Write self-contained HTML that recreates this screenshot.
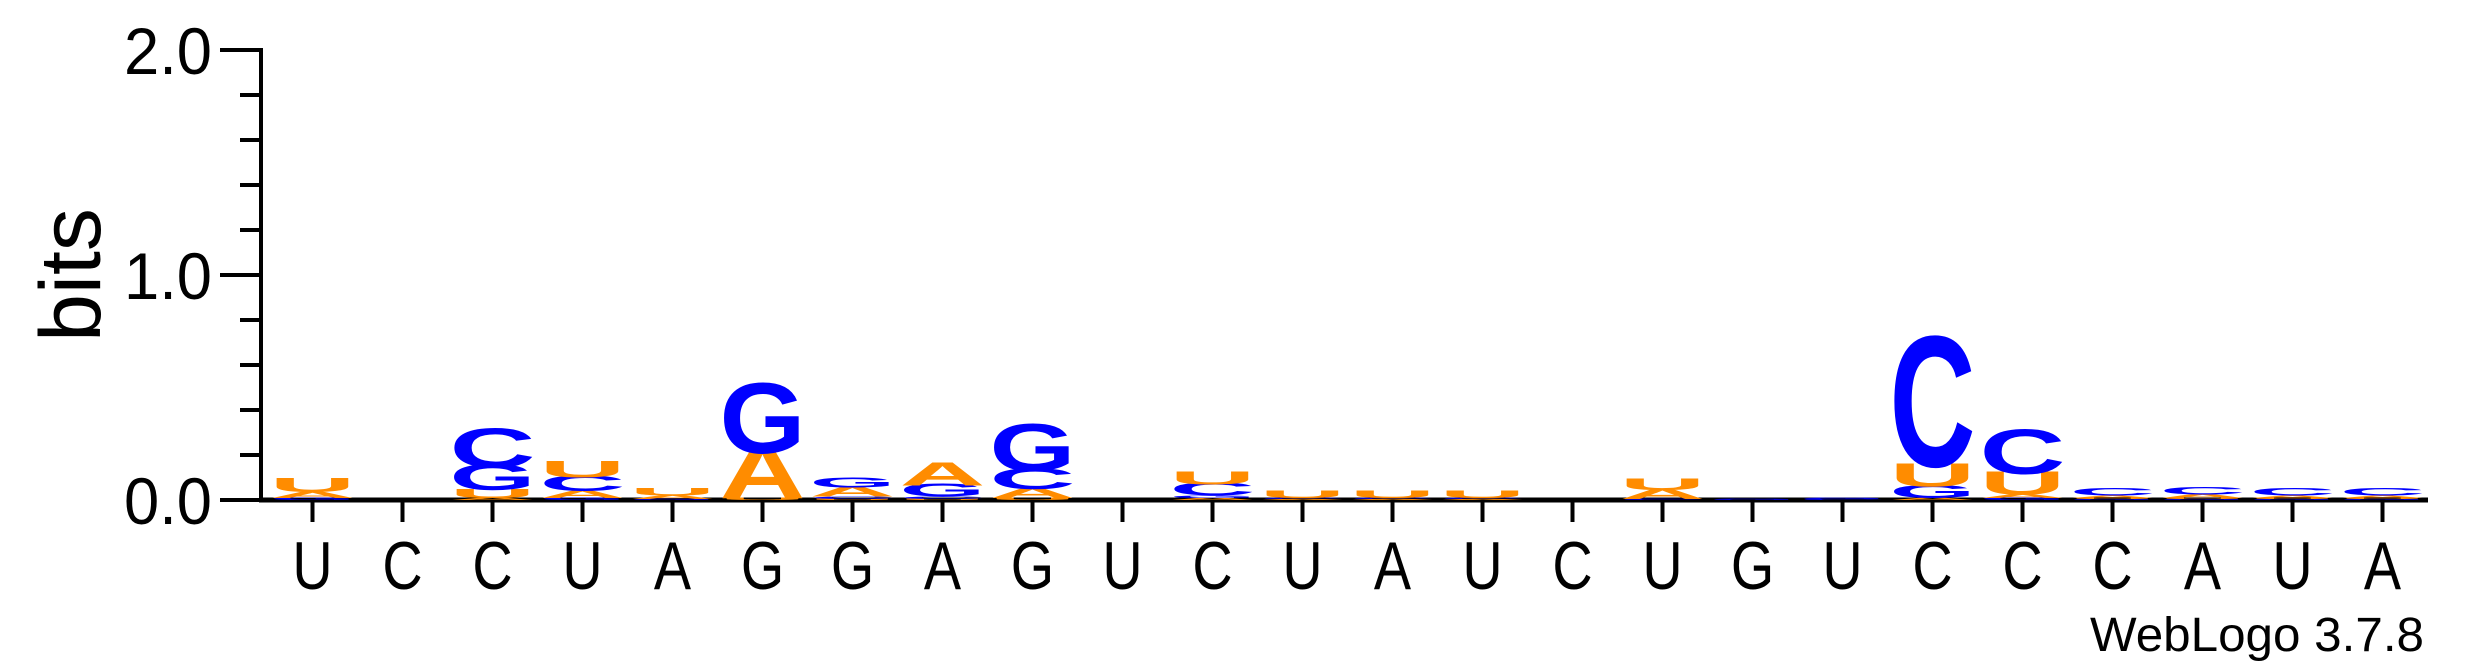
<!DOCTYPE html>
<html><head><meta charset="utf-8"><style>
html,body{margin:0;padding:0;background:#fff;}
svg{display:block;}
text{font-family:"Liberation Sans",Arial,sans-serif;}
</style></head><body>
<svg id="chart" width="2475" height="667" viewBox="0 0 2475 667">
<g id="axes"></g>
<g id="stacks"></g>
</svg>
<script>
// Data
const consensus = ["U","C","C","U","A","G","G","A","G","U","C","U","A","U","C","U","G","U","C","C","C","A","U","A"];
// per-column letter heights in bits
const colA = [0.025,0,0.01,0.03,0.015,0.2,0.04,0.09,0.04,0,0.01,0.005,0.005,0.005,0,0.04,0,0,0.01,0.015,0.01,0.015,0.01,0.01];
const colC = [0,0,0.15,0.06,0,0,0.01,0.01,0.08,0,0.05,0.005,0.005,0.005,0,0.005,0,0.005,0.5,0.17,0.03,0.03,0.03,0.03];
const colG = [0.01,0,0.1,0.01,0.005,0.27,0.04,0.05,0.18,0,0.01,0,0,0,0,0,0.005,0.005,0.05,0.01,0.005,0.005,0.005,0.005];
const colU = [0.055,0,0.035,0.065,0.03,0.01,0.005,0.005,0.01,0,0.05,0.03,0.03,0.03,0,0.045,0,0,0.09,0.09,0.005,0.005,0.005,0.005];
const yTicks = [0,0.2,0.4,0.6,0.8,1.0,1.2,1.4,1.6,1.8,2.0];
const yLabels = ["0.0","1.0","2.0"];

const NS="http://www.w3.org/2000/svg";
const X0=312.5, DX=90, Y0=500, PX_PER_BIT=225;
const xPos=i=>X0+DX*i;
const yPos=b=>Y0-b*PX_PER_BIT;
const axes=document.getElementById('axes');
const stacks=document.getElementById('stacks');
function mk(tag,attrs,parent){const e=document.createElementNS(NS,tag);for(const k in attrs)e.setAttribute(k,attrs[k]);parent.appendChild(e);return e;}

let yl=mk('line',{x1:261,y1:yPos(2)-2,x2:261,y2:Y0+2,stroke:'#000','stroke-width':4},axes);


let xl=mk('line',{x1:259,y1:Y0,x2:2428,y2:Y0,stroke:'#000','stroke-width':5},axes);


yTicks.forEach((t,i)=>{
  const major=(i%5===0);
  const tk=mk('line',{x1:major?220:240,y1:yPos(t),x2:261,y2:yPos(t),stroke:'#000','stroke-width':4},axes);
  
  
});
yLabels.forEach(l=>{
  const v=parseFloat(l);
  const tx=mk('text',{x:212,y:yPos(v)+24,'font-size':66,'text-anchor':'end',textLength:88,lengthAdjust:'spacingAndGlyphs'},axes);
  tx.textContent=l;
  
  
});
const yt=mk('text',{x:0,y:0,'font-size':86,'text-anchor':'middle',transform:'translate(100,275) rotate(-90)'},axes);
yt.textContent='bits';



consensus.forEach((c,i)=>{
  const tk=mk('line',{x1:xPos(i),y1:Y0,x2:xPos(i),y2:Y0+22,stroke:'#000','stroke-width':4},axes);
  
  
  const tx=mk('text',{x:xPos(i),y:589,'font-size':68,'text-anchor':'middle',transform:`translate(${xPos(i)},0) scale(0.82,1) translate(${-xPos(i)},0)`},axes);
  tx.textContent=c;
  
  
});

const colors={A:'#ff8c00',U:'#ff8c00',C:'#0000ff',G:'#0000ff'};
const series={A:colA,C:colC,G:colG,U:colU};
const W=86, F=100, CAP=60;
consensus.forEach((c,i)=>{
  const items=Object.keys(series).map(k=>({k,h:series[k][i]})).filter(d=>d.h>0).sort((a,b)=>a.h-b.h);
  let base=0;
  items.forEach(d=>{
    const hp=d.h*PX_PER_BIT;
    const yb=yPos(base);
    const sy=hp/CAP;
    const g=mk('g',{transform:`translate(${xPos(i)-W/2},${yb}) scale(1,${sy})`},stacks);
    const t=mk('text',{x:0,y:0,'font-size':F,'font-weight':'bold',fill:colors[d.k],textLength:W,lengthAdjust:'spacingAndGlyphs'},g);
    t.textContent=d.k;
    
    
    base+=d.h;
  });
});

const wl=mk('text',{x:2424,y:651,'font-size':48,'text-anchor':'end',textLength:334,lengthAdjust:'spacingAndGlyphs'},axes);
wl.textContent='WebLogo 3.7.8';


</script>
</body></html>
